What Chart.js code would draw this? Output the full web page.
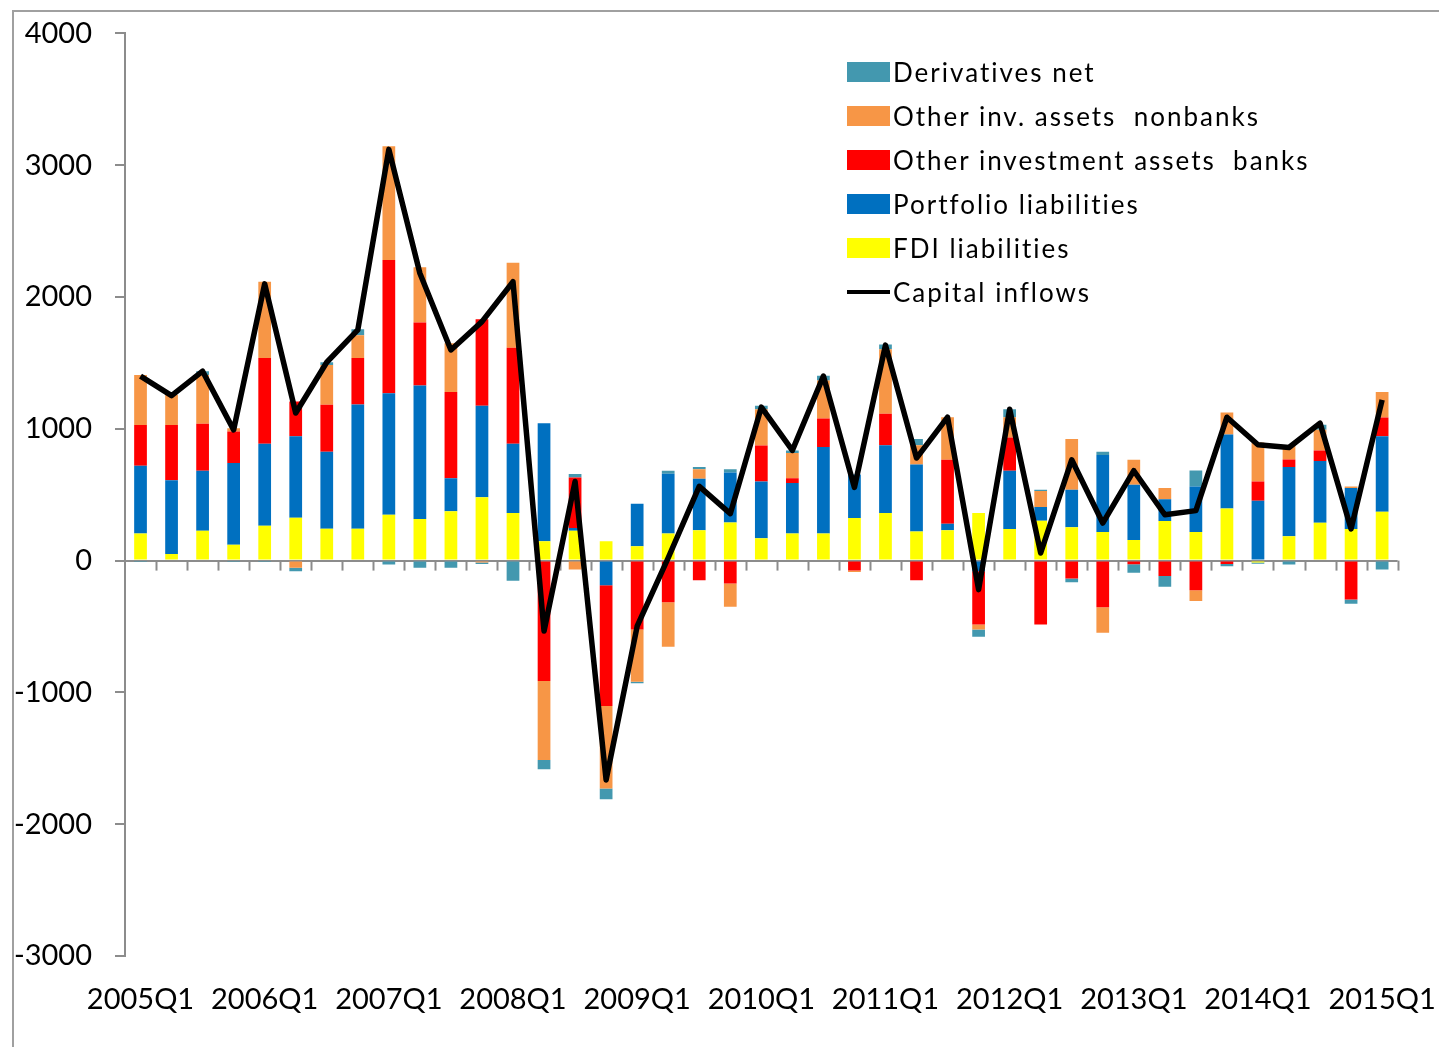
<!DOCTYPE html>
<html lang="en">
<head>
<meta charset="UTF-8">
<title>Capital inflows</title>
<script src="https://cdn.jsdelivr.net/npm/chart.js"></script>
<style>
    body {
        margin: 0;
        background: #fff;
        font-family: Lato, "Liberation Sans", sans-serif;
    }

    .wrap {
        position: relative;
        width: 1439px;
        height: 1047px;
        overflow: hidden;
    }

    /* thin frame at top and left, like the spreadsheet export */
    .frame {
        position: absolute;
        left: 12px;
        top: 10px;
        width: 1500px;
        height: 1100px;
        border-top: 2px solid #a0a0a0;
        border-left: 2px solid #a0a0a0;
    }

    .legend {
        position: absolute;
        left: 847px;
        top: 50px;
    }

    .legend .row {
        height: 44px;
        display: flex;
        align-items: center;
        font-size: 26px;
        letter-spacing: 2px;
        color: #000;
    }

    .legend .sw {
        width: 43px;
        height: 20px;
        margin-right: 3px;
    }

    .legend .ln {
        width: 43px;
        height: 4px;
        margin-right: 3px;
        background: #000;
    }

    /* canvas a bit larger than the page so the plot area lands where the original has it */
    canvas {
        position: absolute;
        left: 0;
        top: -7px;
    }
</style>
</head>
<body>
<div class="wrap">
    <div class="frame"></div>
    <canvas id="chart" width="1462" height="1054"></canvas>
    <div class="legend" id="legend"></div>
</div>

<script>
    const quarters = [
        '2005Q1', '2005Q2', '2005Q3', '2005Q4', '2006Q1', '2006Q2', '2006Q3', '2006Q4',
        '2007Q1', '2007Q2', '2007Q3', '2007Q4', '2008Q1', '2008Q2', '2008Q3', '2008Q4',
        '2009Q1', '2009Q2', '2009Q3', '2009Q4', '2010Q1', '2010Q2', '2010Q3', '2010Q4',
        '2011Q1', '2011Q2', '2011Q3', '2011Q4', '2012Q1', '2012Q2', '2012Q3', '2012Q4',
        '2013Q1', '2013Q2', '2013Q3', '2013Q4', '2014Q1', '2014Q2', '2014Q3', '2014Q4',
        '2015Q1'
    ];

    const fdiLiabilities = [205, 50, 227, 121, 265, 326, 242, 242, 348, 316, 374, 480, 361, 146, 227, 146,
        109, 205, 230, 290, 169, 205, 205, 323, 361, 220, 230, 361, 240, 303, 253, 217,
        157, 301, 217, 396, -15, 184, 288, 240, 371];

    const portfolioLiabilities = [515, 559, 455, 619, 621, 618, 584, 942, 922, 1012, 250, 694, 525, 897, 20, -187,
        323, 454, 391, 379, 432, 383, 656, 330, 515, 510, 50, -81, 442, 104, 285, 584,
        419, 164, 346, 561, 455, 526, 467, 311, 573];

    const otherInvBanks = [308, 419, 356, 240, 652, 263, 356, 354, 1010, 478, 656, 657, 728, -914, 383, -917,
        -523, -316, -149, -174, 273, 36, 217, -76, 238, -149, 485, -404, 252, -485, -136, -354,
        -28, -116, -225, -25, 146, 58, 81, -295, 142];

    const otherInvNonbanks = [381, 230, 371, 25, 578, -55, 303, 172, 864, 419, 369, -15, 646, -599, -68, -626,
        -396, -338, 73, -177, 275, 192, 288, -10, 490, 146, 323, -38, 154, 121, 384, -194,
        189, 86, -81, 167, 295, 110, 156, 12, 194];

    const derivativesNet = [-10, 0, 28, -10, -10, -25, 20, 45, -30, -55, -55, -10, -152, -70, 28, -81,
        -12, 23, 16, 25, 25, 20, 36, 0, 35, 46, 0, -55, 61, 10, -28, 25,
        -65, -83, 121, -18, -8, -30, 38, -33, -68];

    const capitalInflows = [1400, 1252, 1437, 992, 2100, 1120, 1505, 1750, 3120, 2180, 1598, 1813, 2116, -535, 600, -1664,
        -498, 20, 563, 356, 1164, 836, 1400, 555, 1635, 778, 1088, -220, 1149, 58, 765, 285,
        682, 348, 379, 1088, 879, 858, 1043, 240, 1220];

    const yTicks = [-3000, -2000, -1000, 0, 1000, 2000, 3000, 4000];

    const FONT = 'Lato, "Liberation Sans", sans-serif';

    // small tick marks hanging below the zero line, one per category boundary
    const zeroTicks = {
        id: 'zeroTicks',
        beforeDatasetsDraw(chart) {
            const ctx = chart.ctx;
            const area = chart.chartArea;
            const y0 = chart.scales.y.getPixelForValue(0);
            const step = (area.right - area.left) / quarters.length;
            ctx.save();
            ctx.strokeStyle = '#8c8c8c';
            ctx.lineWidth = 2;
            for (let i = 1; i <= quarters.length; i++) {
                const x = Math.round(area.left + i * step) + 0.5;
                ctx.beginPath();
                ctx.moveTo(x, y0);
                ctx.lineTo(x, y0 + 10);
                ctx.stroke();
            }
            ctx.restore();
        }
    };

    function bar(label, data, color) {
        return {
            type: 'bar',
            label: label,
            data: data,
            backgroundColor: color,
            borderWidth: 0,
            barPercentage: 0.41,
            categoryPercentage: 1,
            order: 1
        };
    }

    const datasets = [
        bar('FDI liabilities', fdiLiabilities, '#FFFF00'),
        bar('Portfolio liabilities', portfolioLiabilities, '#0070C0'),
        bar('Other investment assets  banks', otherInvBanks, '#FF0000'),
        bar('Other inv. assets  nonbanks', otherInvNonbanks, '#F79646'),
        bar('Derivatives net', derivativesNet, '#4398AF'),
        {
            type: 'line',
            label: 'Capital inflows',
            data: capitalInflows,
            borderColor: '#000',
            borderWidth: 5.5,
            pointRadius: 0,
            tension: 0,
            borderJoinStyle: 'round',
            stack: 'line',
            order: 0
        }
    ];

    new Chart(document.getElementById('chart'), {
        data: { labels: quarters, datasets: datasets },
        options: {
            responsive: false,
            animation: false,
            devicePixelRatio: 1,
            layout: { padding: { left: 0, right: 18, top: 26, bottom: 0 } },
            plugins: {
                legend: { display: false },
                tooltip: { enabled: false }
            },
            scales: {
                x: {
                    stacked: true,
                    grid: { display: false, drawTicks: false },
                    border: { display: false },
                    ticks: {
                        autoSkip: false,
                        maxRotation: 0,
                        padding: 26,
                        color: '#000',
                        font: { family: FONT, size: 29 },
                        callback: (v, i) => i % 4 === 0 ? quarters[i] : ''
                    },
                    afterFit: s => { s.height = 91; }
                },
                y: {
                    stacked: true,
                    min: -3000,
                    max: 4000,
                    afterBuildTicks: s => { s.ticks = yTicks.map(v => ({ value: v })); },
                    border: { display: true, color: '#8c8c8c', width: 2 },
                    grid: {
                        drawOnChartArea: true,
                        color: c => c.tick && c.tick.value === 0 ? '#8c8c8c' : 'rgba(0,0,0,0)',
                        lineWidth: 2,
                        tickColor: '#8c8c8c',
                        tickLength: 10
                    },
                    ticks: {
                        padding: 23,
                        color: '#000',
                        font: { family: FONT, size: 29 },
                        callback: v => String(v)
                    },
                    afterFit: s => { s.width = 125; }
                }
            }
        },
        plugins: [zeroTicks]
    });

    // legend drawn as html, top to bottom like the original
    const legendOrder = [4, 3, 2, 1, 0, 5];
    const legendEl = document.getElementById('legend');
    legendOrder.forEach(i => {
        const ds = datasets[i];
        const row = document.createElement('div');
        row.className = 'row';
        const sw = document.createElement('div');
        if (ds.type === 'line') {
            sw.className = 'ln';
        } else {
            sw.className = 'sw';
            sw.style.background = ds.backgroundColor;
        }
        const txt = document.createElement('span');
        txt.textContent = ds.label;
        txt.style.whiteSpace = 'pre';
        row.appendChild(sw);
        row.appendChild(txt);
        legendEl.appendChild(row);
    });
</script>
</body>
</html>
